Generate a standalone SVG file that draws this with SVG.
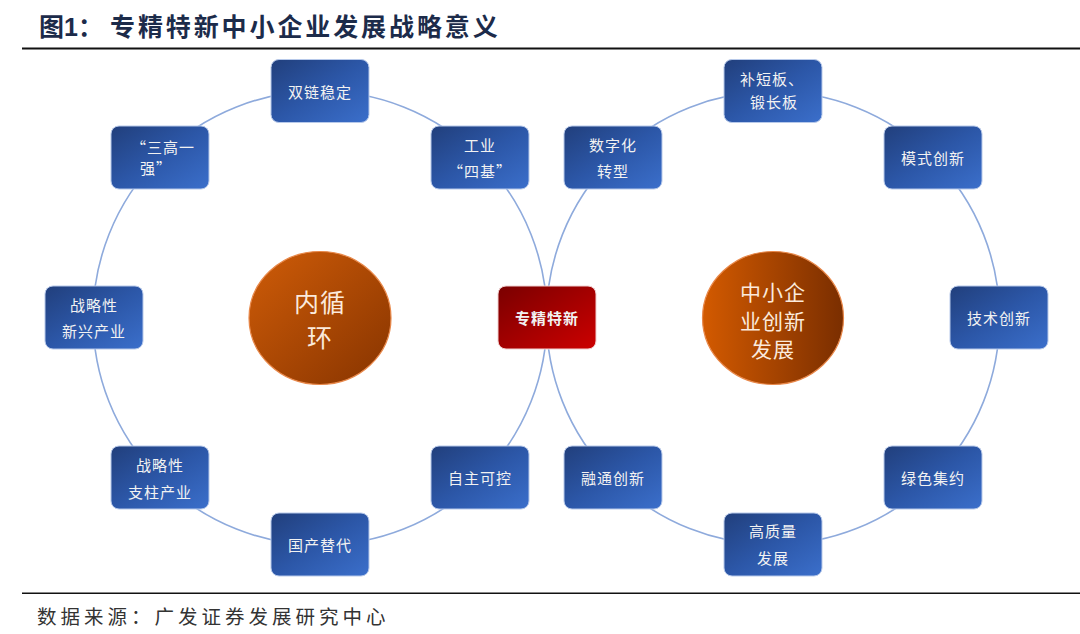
<svg xmlns="http://www.w3.org/2000/svg" width="1080" height="634" viewBox="0 0 1080 634">
<defs>
<linearGradient id="gBlue" x1="0" y1="0" x2="1" y2="1">
<stop offset="0" stop-color="#213f7c"/>
<stop offset="0.5" stop-color="#2c57a8"/>
<stop offset="1" stop-color="#3b6fcb"/>
</linearGradient>
<linearGradient id="gRed" x1="0" y1="0" x2="1" y2="1">
<stop offset="0" stop-color="#7a0000"/>
<stop offset="1" stop-color="#cc0000"/>
</linearGradient>
<linearGradient id="gOrangeL" x1="0" y1="0" x2="1" y2="1">
<stop offset="0" stop-color="#cf5c08"/>
<stop offset="1" stop-color="#873400"/>
</linearGradient>
<linearGradient id="gOrangeR" x1="0" y1="0" x2="1" y2="0">
<stop offset="0" stop-color="#d35a00"/>
<stop offset="1" stop-color="#7a2e00"/>
</linearGradient>
<style>
.box{fill:url(#gBlue);stroke:#b7c9ea;stroke-width:1}
.red{fill:url(#gRed);stroke:#f0d0d0;stroke-width:1}
.t{font-family:"Noto Sans CJK SC","Noto Sans",sans-serif;font-size:15px;fill:#f2f2f2;text-anchor:middle;dominant-baseline:central;letter-spacing:1px}
.tb{font-weight:bold}
.ct{font-family:"Noto Sans CJK SC","Noto Sans",sans-serif;fill:#fbeadc;text-anchor:middle;dominant-baseline:central;letter-spacing:1px}
.ring{fill:none;stroke:#8eaadc;stroke-width:1.6}
</style>
</defs>
<rect width="1080" height="634" fill="#ffffff"/>

<g id="header">
<text x="39" y="36" font-family="'Noto Sans CJK SC','Noto Sans',sans-serif" font-size="25" font-weight="bold" fill="#1c2b4a">图<tspan font-family="'Liberation Sans',sans-serif">1</tspan>：</text>
<text x="110" y="36" font-family="'Noto Sans CJK SC','Noto Sans',sans-serif" font-size="25" font-weight="bold" fill="#1c2b4a" letter-spacing="2.9">专精特新中小企业发展战略意义</text>
<rect x="22" y="47.5" width="1058" height="2" fill="#111111"/>
</g>

<g id="connectors">
<circle class="ring" cx="320" cy="318" r="227"/>
<circle class="ring" cx="773" cy="318" r="226.5"/>
</g>

<g id="center-left">
<ellipse cx="320" cy="318" rx="71" ry="66.5" fill="url(#gOrangeL)" stroke="#e8884a" stroke-width="1.2"/>
<text class="ct" x="320" y="301" font-size="25">内循</text>
<text class="ct" x="320" y="336" font-size="25">环</text>
</g>
<g id="center-right">
<ellipse cx="773" cy="318" rx="70.5" ry="66.5" fill="url(#gOrangeR)" stroke="#e8884a" stroke-width="1.2"/>
<text class="ct" x="773" y="291" font-size="21">中小企</text>
<text class="ct" x="773" y="319.5" font-size="21">业创新</text>
<text class="ct" x="773" y="348" font-size="21">发展</text>
</g>

<g id="n-shuanglian"><rect class="box" x="271" y="59.5" width="98" height="63" rx="8"/><text class="t" x="320" y="91">双链稳定</text></g>
<g id="n-gongye"><rect class="box" x="431" y="126" width="98" height="63" rx="8"/><text class="t" x="480" y="144">工业</text><text class="t" x="480" y="170">“四基”</text></g>
<g id="n-zhuanjing"><rect class="red" x="498" y="286" width="98" height="63" rx="8"/><text class="t tb" x="547" y="317.5">专精特新</text></g>
<g id="n-zizhu"><rect class="box" x="431" y="446" width="98" height="63" rx="8"/><text class="t" x="480" y="477.5">自主可控</text></g>
<g id="n-guochan"><rect class="box" x="271" y="513" width="98" height="63" rx="8"/><text class="t" x="320" y="544.5">国产替代</text></g>
<g id="n-zhizhu"><rect class="box" x="111" y="446" width="98" height="63" rx="8"/><text class="t" x="160" y="464">战略性</text><text class="t" x="160" y="491">支柱产业</text></g>
<g id="n-xinxing"><rect class="box" x="45" y="286" width="98" height="63" rx="8"/><text class="t" x="94" y="304">战略性</text><text class="t" x="94" y="330">新兴产业</text></g>
<g id="n-sangao"><rect class="box" x="111" y="126" width="98" height="63" rx="8"/><text class="t" x="163" y="146">“三高一</text><text class="t" x="156" y="167">强”</text></g>

<g id="n-buduan"><rect class="box" x="724" y="59.5" width="98" height="63" rx="8"/><text class="t" x="772" y="78">补短板、</text><text class="t" x="774" y="101">锻长板</text></g>
<g id="n-moshi"><rect class="box" x="884" y="126" width="98" height="63" rx="8"/><text class="t" x="933" y="157.5">模式创新</text></g>
<g id="n-jishu"><rect class="box" x="950" y="286" width="98" height="63" rx="8"/><text class="t" x="999" y="317.5">技术创新</text></g>
<g id="n-lvse"><rect class="box" x="884" y="446" width="98" height="63" rx="8"/><text class="t" x="933" y="477.5">绿色集约</text></g>
<g id="n-gaozhiliang"><rect class="box" x="724" y="513" width="98" height="63" rx="8"/><text class="t" x="773" y="530">高质量</text><text class="t" x="773" y="557">发展</text></g>
<g id="n-rongtong"><rect class="box" x="564" y="446" width="98" height="63" rx="8"/><text class="t" x="613" y="477.5">融通创新</text></g>
<g id="n-shuzi"><rect class="box" x="564" y="126" width="98" height="63" rx="8"/><text class="t" x="613" y="144">数字化</text><text class="t" x="613" y="170">转型</text></g>

<g id="footer">
<rect x="22" y="592.5" width="1058" height="1.5" fill="#111111"/>
<text x="37" y="624" font-family="'Noto Sans CJK SC','Noto Sans',sans-serif" font-size="19.5" fill="#333333" letter-spacing="4">数据来源：广发证券发展研究中心</text>
</g>
</svg>
